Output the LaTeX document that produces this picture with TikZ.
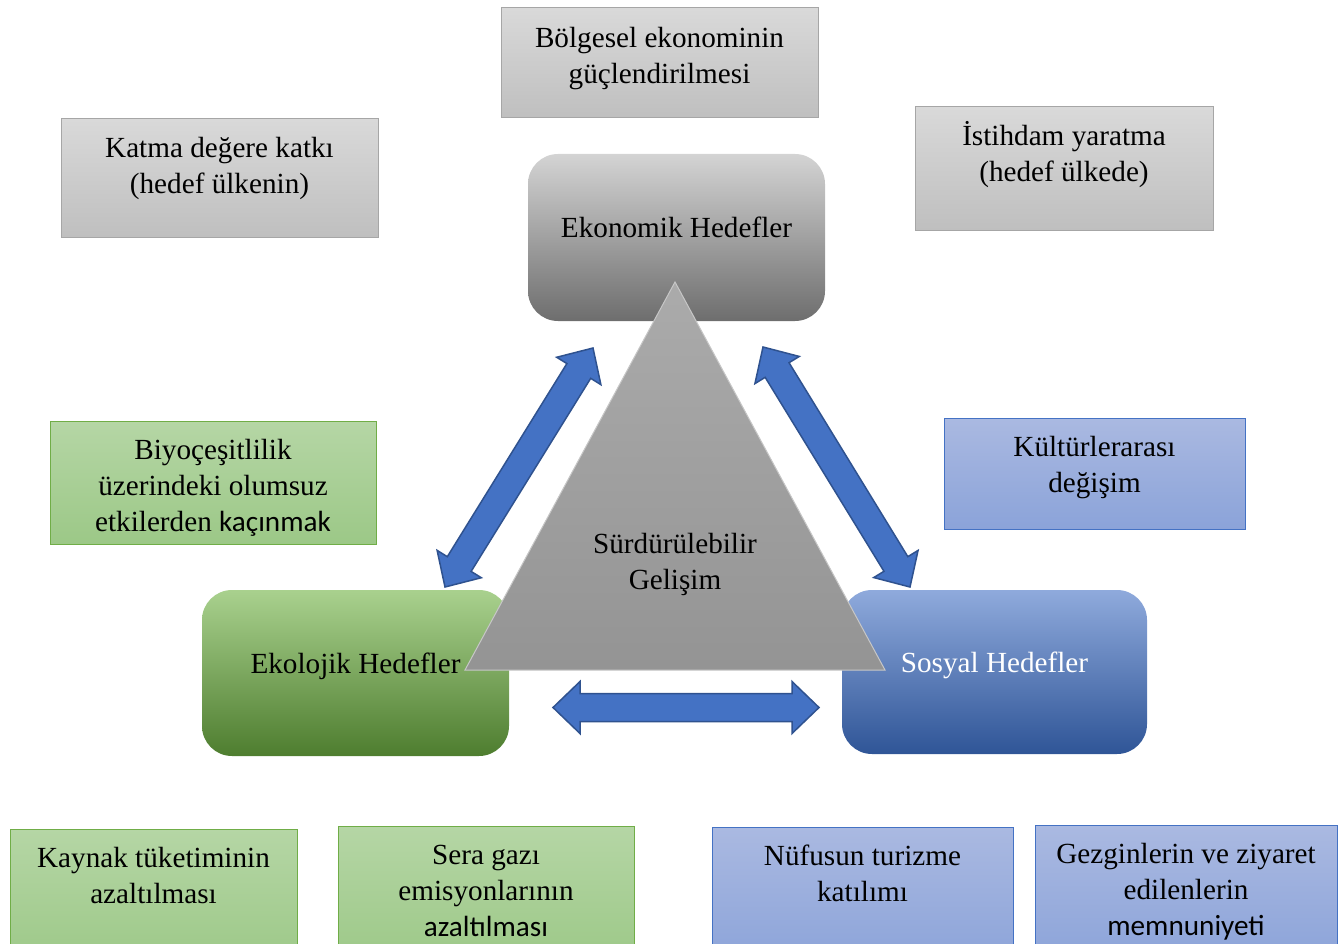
\documentclass[tikz,border=0pt]{standalone}
\usepackage{fontspec}
\setmainfont{Liberation Serif}
\newfontfamily\calibrifont{Carlito}
\usepackage{tikz}
\usetikzlibrary{calc,positioning}

\definecolor{noteGrayTop}{HTML}{D9D9D9}
\definecolor{noteGrayBot}{HTML}{BFBFBF}
\definecolor{noteGrayLine}{HTML}{A6A6A6}
\definecolor{noteGreenTop}{HTML}{B5D6A5}
\definecolor{noteGreenBot}{HTML}{9CC887}
\definecolor{noteGreenLine}{HTML}{70AD47}
\definecolor{noteBlueTop}{HTML}{AAB9E1}
\definecolor{noteBlueBot}{HTML}{8BA3D9}
\definecolor{noteBlueLine}{HTML}{4472C4}
\definecolor{arrowBlue}{HTML}{4472C4}
\definecolor{arrowEdge}{HTML}{2F528F}

% double block arrow between two points
\newcommand{\dblarrow}[2]{%
  \draw[blockarrow] (#1)
    -- ($(#1)!27pt!(#2)!26pt!90:(#2)$)
    -- ($(#1)!27pt!(#2)!14pt!90:(#2)$)
    -- ($(#2)!27pt!(#1)!14pt!-90:(#1)$)
    -- ($(#2)!27pt!(#1)!26pt!-90:(#1)$)
    -- (#2)
    -- ($(#2)!27pt!(#1)!26pt!90:(#1)$)
    -- ($(#2)!27pt!(#1)!14pt!90:(#1)$)
    -- ($(#1)!27pt!(#2)!14pt!-90:(#2)$)
    -- ($(#1)!27pt!(#2)!26pt!-90:(#2)$)
    -- cycle;}

\begin{document}
\begin{tikzpicture}[x=1pt,y=-1pt,
  every node/.style={font=\fontsize{29.2}{36}\selectfont, inner sep=0pt, outer sep=0pt},
  graynote/.style={draw=noteGrayLine, line width=1pt, top color=noteGrayTop, bottom color=noteGrayBot},
  greennote/.style={draw=noteGreenLine, line width=1pt, top color=noteGreenTop, bottom color=noteGreenBot},
  bluenote/.style={draw=noteBlueLine, line width=1pt, top color=noteBlueTop, bottom color=noteBlueBot},
  notetext/.style={anchor=north, align=center},
  goalbox/.style={rounded corners=30pt, text height=12pt, text depth=12pt},
  blockarrow/.style={fill=arrowBlue, draw=arrowEdge, line width=1.5pt, line join=miter}
]
\clip (0,0) rectangle (1343,944);

% notes round the goals
\node[graynote, minimum width=317pt, minimum height=110pt] (boelgesel) at (659.5,63) {};
\node[notetext] (boelgeselText) at ([yshift=-14pt]boelgesel.north) {\strut Bölgesel ekonominin\\güçlendirilmesi};

\node[graynote, minimum width=317pt, minimum height=118pt] (katma) at (219.5,178) {};
\node[notetext] (katmaText) at ([yshift=-13.5pt]katma.north) {\strut Katma değere katkı\\(hedef ülkenin)};

\node[graynote, minimum width=298pt, minimum height=123pt] (istihdam) at (1064,168.5) {};
\node[notetext] (istihdamText) at ([yshift=-13.5pt]istihdam.north) {\strut İstihdam yaratma\\(hedef ülkede)};

\node[greennote, minimum width=326pt, minimum height=123pt] (biyo) at (213,482.5) {};
\node[notetext] (biyoText) at ([yshift=-13pt]biyo.north) {\strut Biyoçeşitlilik\\üzerindeki olumsuz\\etkilerden {\calibrifont kaçınmak}};

\node[bluenote, minimum width=301pt, minimum height=111pt] (kultur) at (1094.5,473.5) {};
\node[notetext] (kulturText) at ([yshift=-13pt]kultur.north) {\strut Kültürlerarası\\değişim};

\node[greennote, minimum width=287pt, minimum height=140pt] (kaynak) at (153.5,899) {};
\node[notetext] (kaynakText) at ([yshift=-13pt]kaynak.north) {\strut Kaynak tüketiminin\\azaltılması};

\node[greennote, minimum width=296pt, minimum height=140pt] (sera) at (486,896) {};
\node[notetext] (seraText) at ([yshift=-13pt]sera.north) {\strut Sera gazı\\emisyonlarının\\{\calibrifont azaltılması}};

\node[bluenote, minimum width=301pt, minimum height=140pt] (nufus) at (862.5,897) {};
\node[notetext] (nufusText) at ([yshift=-13pt]nufus.north) {\strut Nüfusun turizme\\katılımı};

\node[bluenote, minimum width=302pt, minimum height=140pt] (gezgin) at (1186,895) {};
\node[notetext] (gezginText) at ([yshift=-13pt]gezgin.north) {\strut Gezginlerin ve ziyaret\\edilenlerin\\{\calibrifont memnuniyeti}};

% the three goals
\node[goalbox, minimum width=297pt, minimum height=167pt,
  top color=black!17, middle color=black!33, bottom color=black!57] (ekonomik) at (676.5,237.5) {Ekonomik Hedefler};
\node[goalbox, minimum width=307pt, minimum height=166pt,
  top color={rgb,255:red,169;green,209;blue,142}, middle color={rgb,255:red,119;green,178;blue,75},
  bottom color={rgb,255:red,78;green,125;blue,47}] (ekolojik) at (355.5,673) {Ekolojik Hedefler};
\node[goalbox, minimum width=305pt, minimum height=164pt, text=white,
  top color={rgb,255:red,143;green,170;blue,220}, middle color={rgb,255:red,68;green,114;blue,196},
  bottom color={rgb,255:red,47;green,85;blue,151}] (sosyal) at (994.5,672) {Sosyal Hedefler};

% triangle in the middle
\path[draw=black!22, line width=1pt, top color=black!33, bottom color=black!42]
  (675,282) -- (465,670) -- (885,670) -- cycle;
\node[notetext] (surdur) at (675,528.5) {\strut Sürdürülebilir\\Gelişim};

% arrows between the goals
\coordinate (ekoArrLow) at (445,587);
\coordinate (ekoArrHigh) at (593,348);
\coordinate (sosArrHigh) at (763,347);
\coordinate (sosArrLow) at (910,587);
\coordinate (midArrLeft) at (553,707.5);
\coordinate (midArrRight) at (819,707.5);
\dblarrow{ekoArrLow}{ekoArrHigh}
\dblarrow{sosArrHigh}{sosArrLow}
\dblarrow{midArrLeft}{midArrRight}
\end{tikzpicture}
\end{document}
